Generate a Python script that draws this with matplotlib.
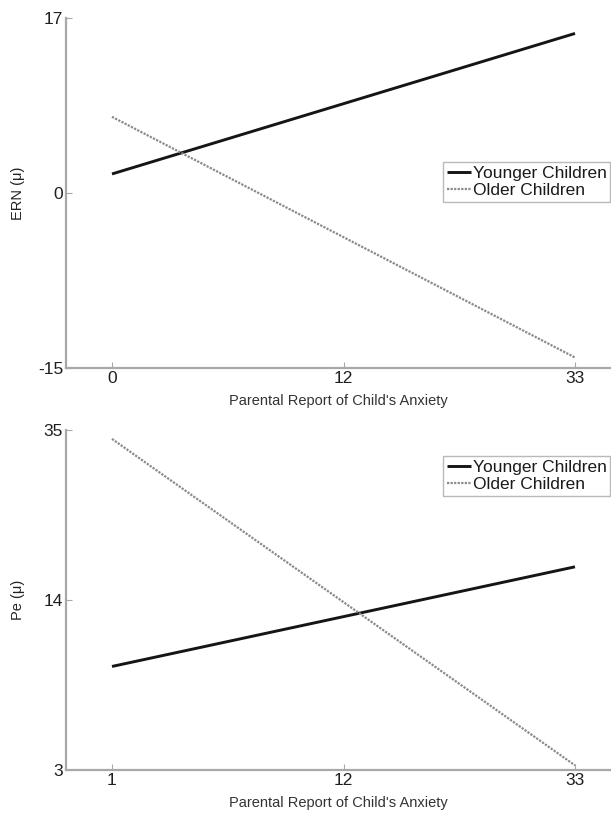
import numpy as np
import matplotlib
matplotlib.use('Agg')
import matplotlib.pyplot as plt

plt.rcParams['font.family'] = ['Liberation Sans', 'DejaVu Sans']

# top panel: ERN
ern_x = [0, 33]
ern_young = [1.85, 15.5]
ern_old = [7.4, -14.1]
ern_xticks = [0, 12, 33]
ern_yticks = [-15, 0, 17]

# bottom panel: Pe
pe_x = [1, 33]
pe_young = [9.7, 18.1]
pe_old = [33.9, 3.3]
pe_xticks = [1, 12, 33]
pe_yticks = [3, 14, 35]

labels = ['Younger Children', 'Older Children']
xlabel = "Parental Report of Child's Anxiety"

W, H = 611, 819


def piecewise(src, dst):
    #linear between tick values, extended linearly past the ends
    src = np.asarray(src, float)
    dst = np.asarray(dst, float)

    def f(v):
        v = np.asarray(v, float)
        shape = v.shape
        v = np.atleast_1d(v).ravel()
        out = np.interp(v, src, dst)
        lo = v < src[0]
        hi = v > src[-1]
        out[lo] = dst[0] + (v[lo] - src[0]) * (dst[1] - dst[0]) / (src[1] - src[0])
        out[hi] = dst[-1] + (v[hi] - src[-1]) * (dst[-1] - dst[-2]) / (src[-1] - src[-2])
        return out.reshape(shape)
    return f


def panel(fig, rect_px, xs, young, old, xticks, yticks, ylabel, legend_top):
    left, top, right, bottom = rect_px
    ax = fig.add_axes([left / W, 1 - bottom / H, (right - left) / W, (bottom - top) / H])

    fx, ix = piecewise(xticks, [0, 1, 2]), piecewise([0, 1, 2], xticks)
    fy, iy = piecewise(yticks, [-1, 0, 1]), piecewise([-1, 0, 1], yticks)
    ax.set_xscale('function', functions=(fx, ix))
    ax.set_yscale('function', functions=(fy, iy))

    ax.plot(xs, young, color='#151515', lw=2.1, solid_capstyle='butt', label=labels[0])
    ax.plot(xs, old, color='#8a8a8a', lw=1.6, linestyle=(0, (1, 0.6)), label=labels[1])

    # tick 0 sits at 112 px, spacing 231.5 px per tick step
    ax.set_xlim(float(ix((left - 112) / 231.5)), float(ix((right - 112) / 231.5)))
    ax.set_ylim(yticks[0], yticks[-1])
    ax.set_xticks(xticks)
    ax.set_yticks(yticks)
    ax.set_xticklabels([str(t) for t in xticks])
    ax.set_yticklabels([str(t) for t in yticks])
    ax.minorticks_off()

    for s in ['top', 'right']:
        ax.spines[s].set_visible(False)
    for s in ['left', 'bottom']:
        ax.spines[s].set_color('#a8a8a8')
        ax.spines[s].set_linewidth(1.6)
    ax.tick_params(direction='in', length=4, width=0.8, color='#a8a8a8',
                   labelsize=12.5, labelcolor='#1e1e1e', pad=2)

    ax.set_xlabel(xlabel, fontsize=10.5, color='#333333', labelpad=6)
    ax.set_ylabel(ylabel, fontsize=10.5, color='#222222')
    ax.yaxis.set_label_coords(-(left - 25) / (right - left), 0.5)

    leg = ax.legend(loc='upper right', bbox_to_anchor=(610 / W, 1 - legend_top / H),
                    bbox_transform=fig.transFigure, fontsize=12.5, frameon=True,
                    fancybox=False, borderpad=0.2, labelspacing=0.15,
                    handlelength=1.4, handletextpad=0.1, borderaxespad=0)
    leg.get_frame().set_edgecolor('#a8a8a8')
    leg.get_frame().set_linewidth(1.0)
    for t in leg.get_texts():
        t.set_color('#1a1a1a')
    return ax


fig = plt.figure(figsize=(W / 100, H / 100), dpi=100)
panel(fig, (66, 18, 611, 368), ern_x, ern_young, ern_old, ern_xticks, ern_yticks,
      'ERN (\u03bc)', 162)
panel(fig, (66, 430, 611, 770), pe_x, pe_young, pe_old, pe_xticks, pe_yticks,
      'Pe (\u03bc)', 456)

fig.savefig('out.png', dpi=100)
